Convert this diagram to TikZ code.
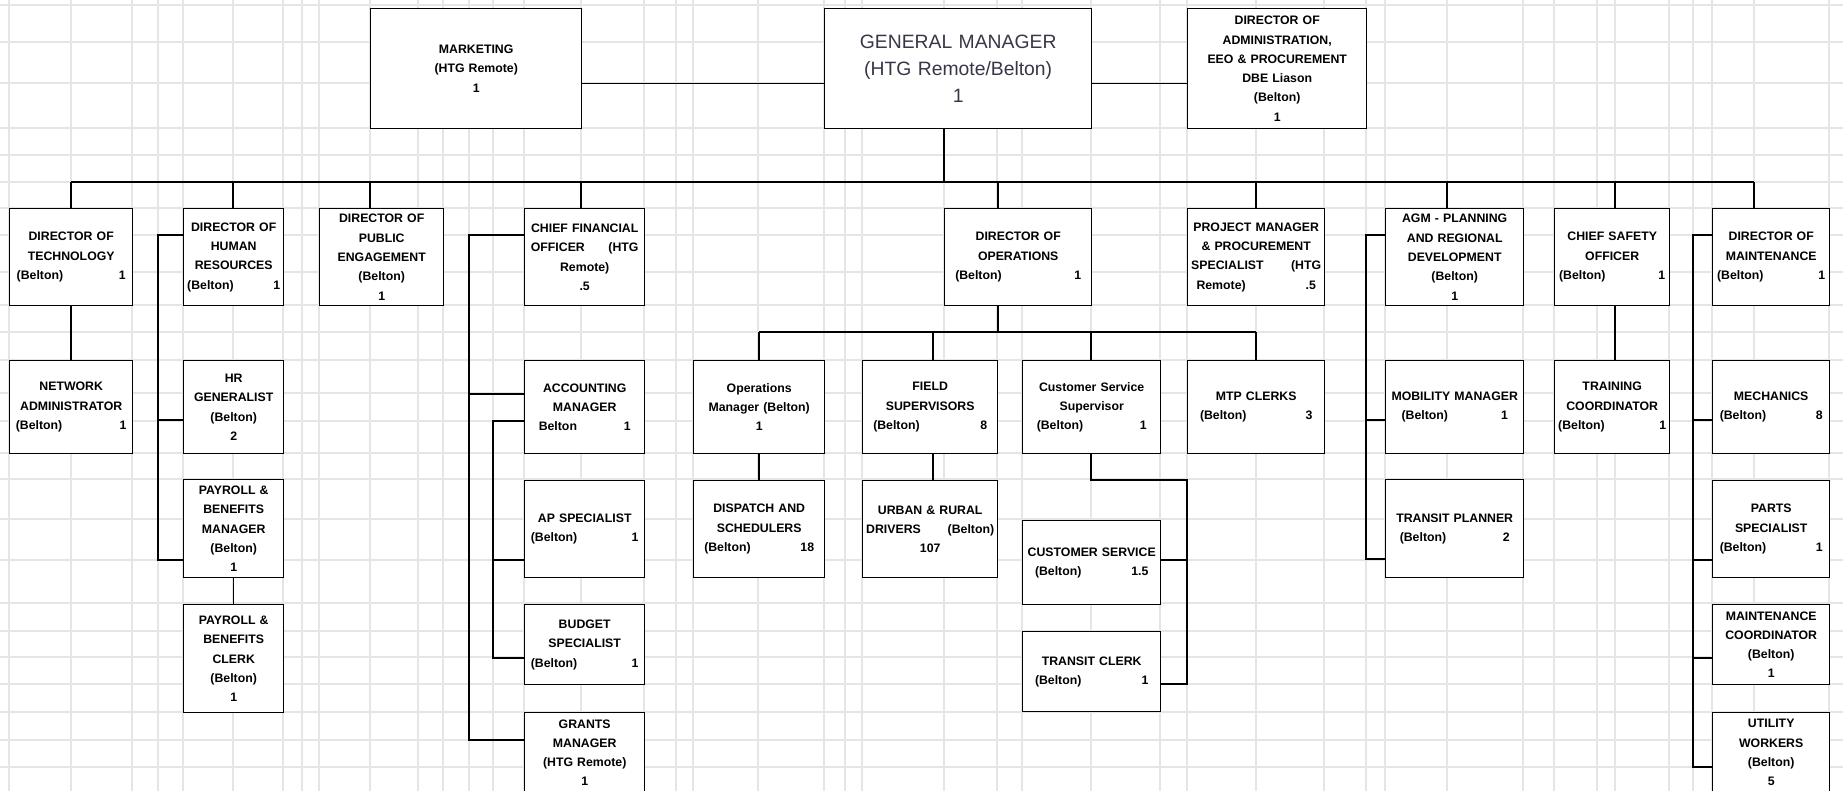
\documentclass[tikz,border=0pt]{standalone}
\usepackage{fontspec}
\setmainfont{Liberation Sans}
\usetikzlibrary{positioning}
\definecolor{gmtext}{RGB}{55,55,72}
\newcommand{\lr}[3][1.5pt]{\makebox[\linewidth]{\hspace{#1}#2\hfill#3\hspace{#1}}}

\begin{document}
\begin{tikzpicture}[
  x=0.02cm, y=-0.02cm,
  sheetline/.style={draw=black!10, line width=0.7pt},
  box/.style={draw=black, line width=0.8pt, fill=white, anchor=north west, align=center,
    inner xsep=2pt, inner ysep=1pt, font=\fontsize{7}{11}\selectfont\bfseries},
  sz/.style 2 args={minimum width=#1*0.02cm, minimum height=#2*0.02cm, text width=#1*0.02cm-4pt},
  gmbox/.style={box, font=\fontsize{11}{15.3}\selectfont, text=gmtext},
  wire/.style={draw=black, line width=0.8pt}
]
\useasboundingbox (0,0) rectangle (1843,791);
\clip (0,0) rectangle (1843,791);

% spreadsheet grid
\foreach \x in {9,71,132,158,183,233,283,302,319,370,418,443,469,493,524,581,644,676,693,758,824,845,862,944,997,1022,1091,1160,1187,1256,1324,1366,1385,1447,1523,1554,1597,1615,1669,1693,1712,1754,1829}
  \draw[sheetline] (\x,0) -- (\x,791);
\foreach \y in {5,42,83,128,155,182,208,235,272,305,332,360,393,421,453,479,519,560,603,631,657,684,712,740,767}
  \draw[sheetline] (0,\y) -- (1843,\y);

% top row
\node[box, sz={211}{120}] (mkt) at (370,8) {MARKETING\\(HTG Remote)\\1};
\node[gmbox, sz={267}{120}] (gm) at (824,8) {GENERAL MANAGER\\(HTG Remote/Belton)\\1};
\node[box, sz={179}{120}] (adm) at (1187,8) {DIRECTOR OF\\ADMINISTRATION,\\EEO \& PROCUREMENT\\DBE Liason\\(Belton)\\1};

% directors
\node[box, sz={123}{97}] (dtech) at (9,208) {DIRECTOR OF\\TECHNOLOGY\\\lr[2pt]{(Belton)}{1}};
\node[box, sz={100}{97}] (dhr) at (183,208) {DIRECTOR OF\\HUMAN\\RESOURCES\\\lr[0pt]{(Belton)}{1}};
\node[box, sz={124}{97}] (dpub) at (319,208) {DIRECTOR OF\\PUBLIC\\ENGAGEMENT\\(Belton)\\1};
\node[box, sz={120}{97}] (cfo) at (524,208) {CHIEF FINANCIAL\\\lr{OFFICER}{(HTG}\\Remote)\\.5};
\node[box, sz={147}{97}] (dops) at (944,208) {DIRECTOR OF\\OPERATIONS\\\lr[4pt]{(Belton)}{1}};
\node[box, sz={137}{97}] (pm) at (1187,208) {PROJECT MANAGER\\\& PROCUREMENT\\\lr[0pt]{SPECIALIST}{(HTG}\\\lr[3pt]{Remote)}{.5}};
\node[box, sz={138}{97}] (agm) at (1385,208) {AGM - PLANNING\\AND REGIONAL\\DEVELOPMENT\\(Belton)\\1};
\node[box, sz={115}{97}] (cso) at (1554,208) {CHIEF SAFETY\\OFFICER\\\lr[0.5pt]{(Belton)}{1}};
\node[box, sz={117}{97}] (dmnt) at (1712,208) {DIRECTOR OF\\MAINTENANCE\\\lr[0.5pt]{(Belton)}{1}};

% third row
\node[box, sz={123}{93}] (netadm) at (9,360) {NETWORK\\ADMINISTRATOR\\\lr{(Belton)}{1}};
\node[box, sz={100}{93}] (hrgen) at (183,360) {HR\\GENERALIST\\(Belton)\\2};
\node[box, sz={120}{93}] (acct) at (524,360) {ACCOUNTING\\MANAGER\\\lr[6pt]{Belton}{1}};
\node[box, sz={131}{93}] (opsm) at (693,360) {Operations\\Manager (Belton)\\1};
\node[box, sz={135}{93}] (fsup) at (862,360) {FIELD\\SUPERVISORS\\\lr[4pt]{(Belton)}{8}};
\node[box, sz={138}{93}] (css) at (1022,360) {Customer Service\\Supervisor\\\lr[6pt]{(Belton)}{1}};
\node[box, sz={137}{93}] (mtp) at (1187,360) {MTP CLERKS\\\lr[5pt]{(Belton)}{3}};
\node[box, sz={138}{93}] (mob) at (1385,360) {MOBILITY MANAGER\\\lr[7pt]{(Belton)}{1}};
\node[box, sz={115}{93}] (trn) at (1554,360) {TRAINING\\COORDINATOR\\\lr[0pt]{(Belton)}{1}};
\node[box, sz={117}{93}] (mech) at (1712,360) {MECHANICS\\\lr[2pt]{(Belton)}{8}};

% lower rows
\node[box, sz={100}{98}] (pbm) at (183,479) {PAYROLL \&\\BENEFITS\\MANAGER\\(Belton)\\1};
\node[box, sz={100}{108}] (pbc) at (183,604) {PAYROLL \&\\BENEFITS\\CLERK\\(Belton)\\1};
\node[box, sz={120}{97}] (ap) at (524,480) {AP SPECIALIST\\\lr{(Belton)}{1}};
\node[box, sz={120}{80}] (bud) at (524,604) {BUDGET\\SPECIALIST\\\lr{(Belton)}{1}};
\node[box, sz={120}{80}] (grants) at (524,712) {GRANTS\\MANAGER\\(HTG Remote)\\1};
\node[box, sz={131}{97}] (disp) at (693,480) {DISPATCH AND\\SCHEDULERS\\\lr[4pt]{(Belton)}{18}};
\node[box, sz={135}{97}] (urban) at (862,480) {URBAN \& RURAL\\\lr[0pt]{DRIVERS}{(Belton)}\\107};
\node[box, sz={138}{84}] (csrv) at (1022,520) {CUSTOMER SERVICE\\\lr[5pt]{(Belton)}{1.5}};
\node[box, sz={138}{80}] (tclerk) at (1022,631) {TRANSIT CLERK\\\lr[5pt]{(Belton)}{1}};
\node[box, sz={138}{98}] (tplan) at (1385,479) {TRANSIT PLANNER\\\lr[6pt]{(Belton)}{2}};
\node[box, sz={117}{97}] (parts) at (1712,480) {PARTS\\SPECIALIST\\\lr[2pt]{(Belton)}{1}};
\node[box, sz={117}{80}] (mcoord) at (1712,604) {MAINTENANCE\\COORDINATOR\\(Belton)\\1};
\node[box, sz={117}{80}] (util) at (1712,712) {UTILITY\\WORKERS\\(Belton)\\5};

% top links and bus
\draw[wire] ([yshift=-0.3cm]mkt.east) -- ([yshift=-0.3cm]gm.west);
\draw[wire] ([yshift=-0.3cm]gm.east) -- ([yshift=-0.3cm]adm.west);
\coordinate (g0) at (944,182);
\coordinate (b1) at (71,182);
\coordinate (b2) at (233,182);
\coordinate (b3) at (370,182);
\coordinate (b4) at (581,182);
\coordinate (b5) at (998,182);
\coordinate (b6) at (1256,182);
\coordinate (b7) at (1447,182);
\coordinate (b8) at (1615,182);
\coordinate (b9) at (1754,182);
\draw[wire] (gm.south -| g0) -- (g0);
\draw[wire] (b1) -- (b9);
\foreach \b/\n in {b1/dtech, b2/dhr, b3/dpub, b4/cfo, b5/dops, b6/pm, b7/agm, b8/cso, b9/dmnt}
  \draw[wire] (\b) -- (\n.north -| \b);

\draw[wire] (dtech.south -| b1) -- (netadm.north -| b1);
\draw[wire] (cso.south -| b8) -- (trn.north -| b8);

% human resources
\coordinate (h1) at (158,235);
\coordinate (h2) at (158,420);
\coordinate (h3) at (158,560);
\draw[wire] (dhr.west |- h1) -- (h1) -- (h3) -- (pbm.west |- h3);
\draw[wire] (h2) -- (hrgen.west |- h2);
\draw[wire] (pbm.south) -- (pbc.north);

% finance
\coordinate (f1) at (469,235);
\coordinate (f2) at (469,394);
\coordinate (f3) at (469,740);
\draw[wire] (cfo.west |- f1) -- (f1) -- (f3) -- (grants.west |- f3);
\draw[wire] (f2) -- (acct.west |- f2);
\coordinate (k1) at (493,421);
\coordinate (k2) at (493,560);
\coordinate (k3) at (493,658);
\draw[wire] (acct.west |- k1) -- (k1) -- (k3) -- (bud.west |- k3);
\draw[wire] (k2) -- (ap.west |- k2);

% operations
\coordinate (o0) at (998,332);
\coordinate (o1) at (759,332);
\coordinate (o2) at (933,332);
\coordinate (o3) at (1091,332);
\coordinate (o4) at (1256,332);
\draw[wire] (dops.south -| o0) -- (o0);
\draw[wire] (o1) -- (o4);
\foreach \o/\n in {o1/opsm, o2/fsup, o3/css, o4/mtp}
  \draw[wire] (\o) -- (\n.north -| \o);
\draw[wire] (opsm.south -| o1) -- (disp.north -| o1);
\draw[wire] (fsup.south -| o2) -- (urban.north -| o2);
\coordinate (c1) at (1187,480);
\coordinate (c2) at (1187,560);
\coordinate (c3) at (1187,684);
\draw[wire] (css.south -| o3) |- (c1) -- (c3) -- (tclerk.east |- c3);
\draw[wire] (c2) -- (csrv.east |- c2);

% planning
\coordinate (p1) at (1366,235);
\coordinate (p2) at (1366,420);
\coordinate (p3) at (1366,559);
\draw[wire] (agm.west |- p1) -- (p1) -- (p3) -- (tplan.west |- p3);
\draw[wire] (p2) -- (mob.west |- p2);

% maintenance
\coordinate (m1) at (1693,235);
\coordinate (m2) at (1693,420);
\coordinate (m3) at (1693,560);
\coordinate (m4) at (1693,658);
\coordinate (m5) at (1693,767);
\draw[wire] (dmnt.west |- m1) -- (m1) -- (m5) -- (util.west |- m5);
\foreach \m/\n in {m2/mech, m3/parts, m4/mcoord}
  \draw[wire] (\m) -- (\n.west |- \m);
\end{tikzpicture}
\end{document}
